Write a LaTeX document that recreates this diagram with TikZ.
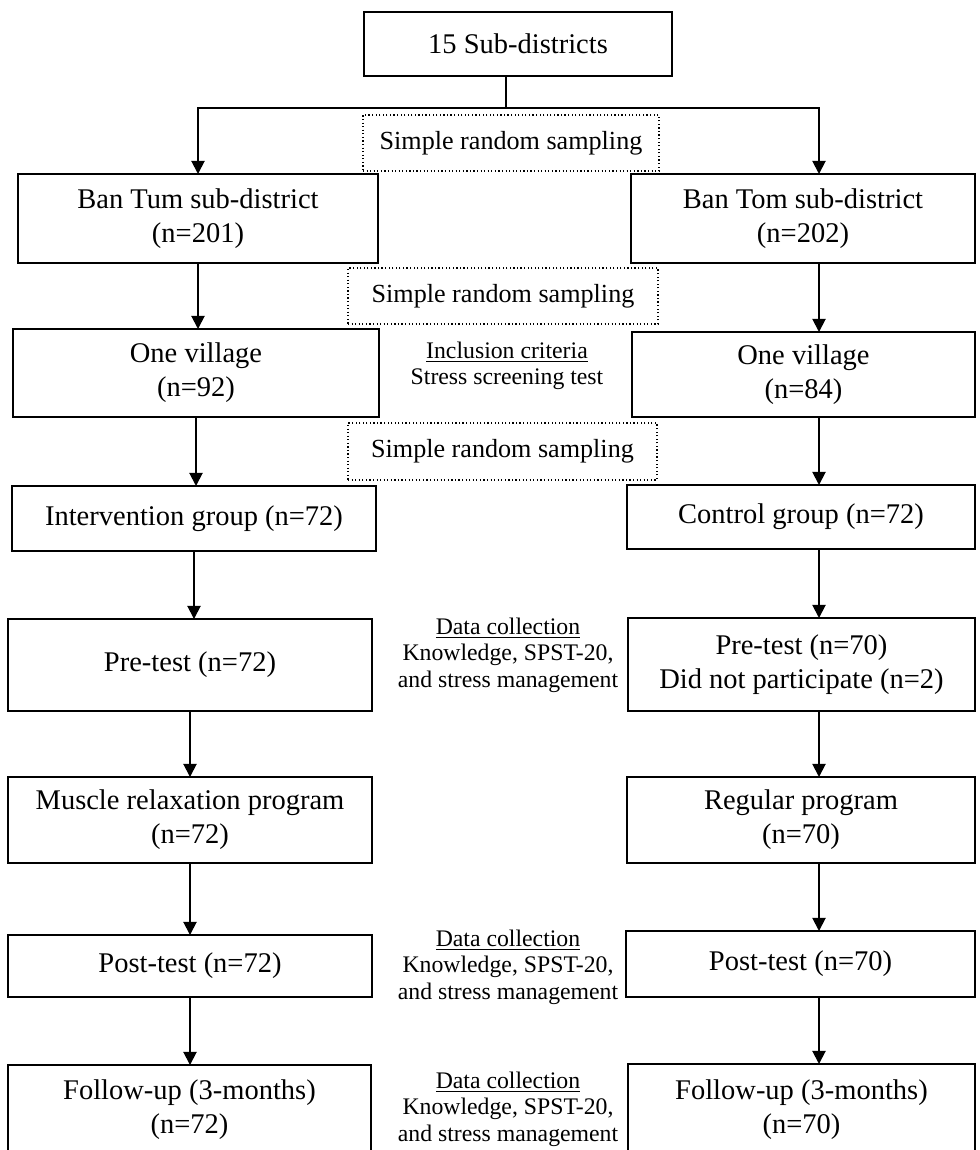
\documentclass[tikz,border=0pt]{standalone}
\usepackage{fontspec}
\setmainfont{Liberation Serif}
\usepackage{tikz}
\usetikzlibrary{arrows.meta,positioning,calc}
\newcommand{\pxu}{0.421pt}
\tikzset{
  >={Triangle[length=5.5pt,width=5.5pt]},
  % rutor
  box/.style={draw=black,line width=0.8pt,fill=white,inner sep=0pt,outer sep=0pt,
              align=center,font=\fontsize{12}{14.4}\selectfont},
  samp/.style={draw=black,line width=0.5pt,densely dotted,inner sep=0pt,outer sep=0pt,
               align=center,font=\fontsize{11}{13}\selectfont},
  note/.style={align=center,inner sep=0pt,font=\fontsize{10}{11.2}\selectfont},
  wh/.style 2 args={minimum width=#1*\pxu,minimum height=#2*\pxu},
  % pilar
  arr/.style={->,draw=black,line width=0.8pt},
  ln/.style={draw=black,line width=0.8pt},
}
\begin{document}
\begin{tikzpicture}[x=\pxu,y=-\pxu]
  \useasboundingbox (0,0) rectangle (980,1150);
  \clip (0,0) rectangle (980,1150);
  \coordinate (stem) at (506,108);
  \coordinate (rcol) at (819,0);
  \node[box,wh={308}{64}] (sub) at (518,44) {15 Sub-districts};
  \node[samp,wh={296}{56}] (s1) at (511,143) {Simple random sampling};
  \node[box,wh={360}{89}] (tum) at (198,218.5) {Ban Tum sub-district\\(n=201)};
  \node[box,wh={344}{89}] (tom) at (803,218.5) {Ban Tom sub-district\\(n=202)};
  \node[samp,wh={310}{56}] (s2) at (503,296) {Simple random sampling};
  \node[box,wh={366}{88}] (vt) at (196,373) {One village\\(n=92)};
  \node[box,wh={343}{85}] (vo) at (803.5,374.5) {One village\\(n=84)};
  \node[note] (inc) at (507,366) {\underline{Inclusion criteria}\\Stress screening test};
  \node[samp,wh={309}{57}] (s3) at (502.5,451.5) {Simple random sampling};
  \node[box,wh={364}{65}] (ig) at (194,518.5) {Intervention group (n=72)};
  \node[box,wh={348}{64}] (cg) at (801,517) {Control group (n=72)};
  \node[box,wh={364}{92}] (pre1) at (190,665) {Pre-test (n=72)};
  \node[box,wh={347}{93}] (pre2) at (801.5,664.5) {Pre-test (n=70)\\Did not participate (n=2)};
  \node[note] (dc1) at (508,655) {\underline{Data collection}\\Knowledge, SPST-20,\\and stress management};
  \node[box,wh={364}{86}] (mr) at (190,820) {Muscle relaxation program\\(n=72)};
  \node[box,wh={348}{86}] (rp) at (801,820) {Regular program\\(n=70)};
  \node[box,wh={364}{62}] (post1) at (190,966) {Post-test (n=72)};
  \node[box,wh={349}{66}] (post2) at (800.5,964) {Post-test (n=70)};
  \node[note] (dc2) at (508,967) {\underline{Data collection}\\Knowledge, SPST-20,\\and stress management};
  \node[box,wh={363}{90}] (fu1) at (189.5,1110) {Follow-up (3-months)\\(n=72)};
  \node[box,wh={347}{91}] (fu2) at (801.5,1109.5) {Follow-up (3-months)\\(n=70)};
  \node[note] (dc3) at (508,1109) {\underline{Data collection}\\Knowledge, SPST-20,\\and stress management};
  % förgrening
  \draw[ln] (sub.south -| stem) -- (stem);
  \draw[arr] (stem) -| (tum.north);
  \draw[arr] (stem) -| (tom.north -| rcol);
  % vänster kolumn
  \draw[arr] (tum.south) -- (tum.south |- vt.north);
  \draw[arr] (vt.south) -- (vt.south |- ig.north);
  \draw[arr] (ig.south) -- (ig.south |- pre1.north);
  \draw[arr] (pre1.south) -- (pre1.south |- mr.north);
  \draw[arr] (mr.south) -- (mr.south |- post1.north);
  \draw[arr] (post1.south) -- (post1.south |- fu1.north);
  % höger kolumn
  \draw[arr] (tom.south -| rcol) -- (vo.north -| rcol);
  \draw[arr] (vo.south -| rcol) -- (cg.north -| rcol);
  \draw[arr] (cg.south -| rcol) -- (pre2.north -| rcol);
  \draw[arr] (pre2.south -| rcol) -- (rp.north -| rcol);
  \draw[arr] (rp.south -| rcol) -- (post2.north -| rcol);
  \draw[arr] (post2.south -| rcol) -- (fu2.north -| rcol);
\end{tikzpicture}
\end{document}
